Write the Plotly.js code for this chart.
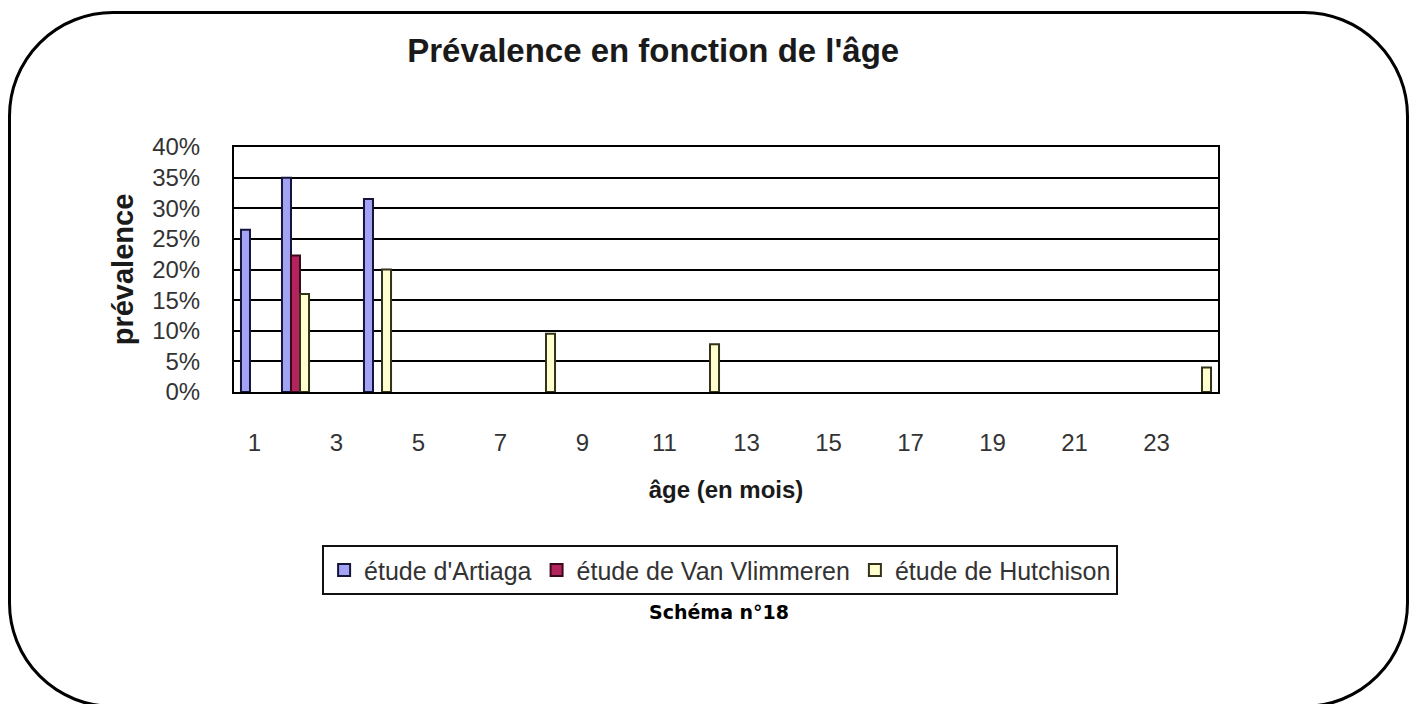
<!DOCTYPE html>
<html><head><meta charset="utf-8">
<script src="https://cdn.plot.ly/plotly-3.0.1.min.js"></script>
<style>
html,body{margin:0;padding:0;width:1417px;height:704px;overflow:hidden;background:#fff}
#frame{position:absolute;left:8px;top:11px;width:1395px;height:691px;border:3px solid #000;border-radius:105px}
#chart{position:absolute;left:0;top:0;width:1417px;height:704px}
</style></head><body>
<div id="frame"></div>
<div id="chart"></div>
<script>
// months 1..24
const months = [1,2,3,4,5,6,7,8,9,10,11,12,13,14,15,16,17,18,19,20,21,22,23,24];
const tickMonths = [1,3,5,7,9,11,13,15,17,19,21,23];
const yTicks = [0,0.05,0.10,0.15,0.20,0.25,0.30,0.35,0.40];
const seriesNames = ["étude d'Artiaga", "étude de Van Vlimmeren", "étude de Hutchison"];
const artiaga =   [0.265,0.35,null,0.315,null,null,null,null,null,null,null,null,null,null,null,null,null,null,null,null,null,null,null,null];
const vanVlimmeren = [null,0.223,null,null,null,null,null,null,null,null,null,null,null,null,null,null,null,null,null,null,null,null,null,null];
const hutchison = [null,0.16,null,0.20,null,null,null,0.095,null,null,null,0.078,null,null,null,null,null,null,null,null,null,null,null,0.04];

const colors = ['#a3a3f5', '#b3245f', '#ffffd0'];
const lineColors = ['#15153a', '#3a0a1a', '#33331a'];
const values = [artiaga, vanVlimmeren, hutchison];

const traces = values.map((v, i) => ({
  type: 'bar', x: months, y: v, name: seriesNames[i],
  marker: {color: colors[i], line: {color: lineColors[i], width: 2}},
  hoverinfo: 'x+y'
}));

const layout = {
  width: 1417, height: 704,
  margin: {l: 234, r: 199, t: 147, b: 312},
  paper_bgcolor: 'rgba(0,0,0,0)', plot_bgcolor: '#fff',
  font: {family: 'Liberation Sans, Arial, sans-serif', color: '#333'},
  title: {text: "Prévalence en fonction de l'âge", font: {size: 33, color: '#1a1a1a', weight: 'bold'},
          xref: 'container', x: 0.461, xanchor: 'center', yref: 'container', y: 0.928, yanchor: 'middle'},
  barmode: 'group', bargap: 0.34, bargroupgap: 0,
  showlegend: true,
  legend: {orientation: 'h', x: 0.494, xanchor: 'center', y: -0.625, yanchor: 'top',
           bordercolor: '#111', borderwidth: 2, font: {size: 25, color: '#333'}, traceorder: 'normal'},
  xaxis: {range: [0.5, 24.5], tickvals: tickMonths, ticktext: tickMonths.map(String),
          showgrid: false, zeroline: false, showline: true, linecolor: '#000', linewidth: 2, mirror: true,
          ticks: '', ticklabelstandoff: 28, tickfont: {size: 24, color: '#333'},
          title: {text: 'âge (en mois)', font: {size: 24, color: '#1a1a1a', weight: 'bold'}, standoff: 26}},
  yaxis: {range: [0, 0.40], tickvals: yTicks, tickformat: '.0%',
          showgrid: true, gridcolor: '#000', gridwidth: 2, zeroline: false,
          showline: true, linecolor: '#000', linewidth: 2, mirror: true,
          ticks: '', ticklabelstandoff: 27, tickfont: {size: 24, color: '#333'},
          title: {text: 'prévalence', font: {size: 29, color: '#1a1a1a', weight: 'bold'}, standoff: 10}},
  annotations: [{text: 'Schéma n°18', xref: 'paper', yref: 'paper', x: 0.4929, y: -0.898,
                 xanchor: 'center', yanchor: 'middle', showarrow: false,
                 font: {family: 'DejaVu Sans, Verdana, sans-serif', size: 19, color: '#000', weight: 'bold'}}]
};
Plotly.newPlot('chart', traces, layout, {displayModeBar: false, staticPlot: true});
</script>
</body></html>
